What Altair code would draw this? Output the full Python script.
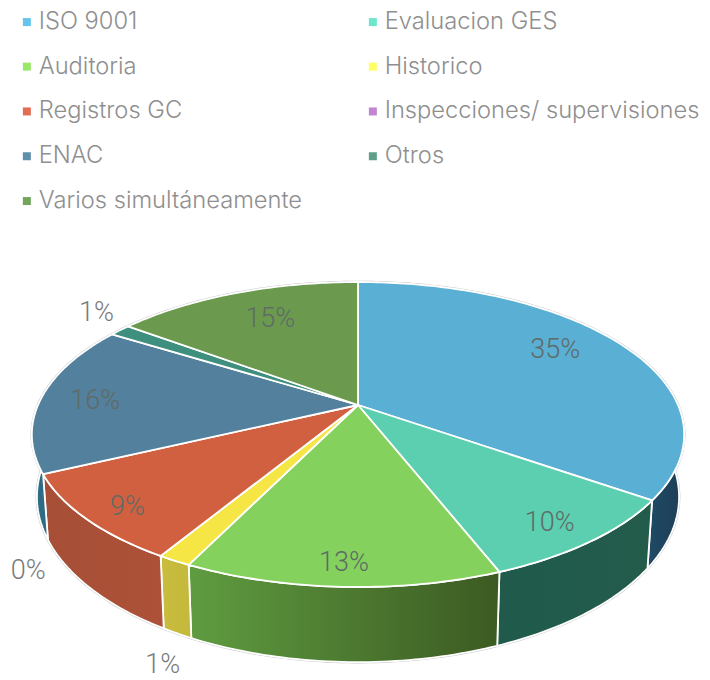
import math
import altair as alt

# ---- chart values -------------------------------------------------------
names = ["ISO 9001", "Evaluacion GES", "Auditoria", "Historico", "Registros GC",
         "Inspecciones/ supervisiones", "ENAC", "Otros", "Varios simultáneamente"]
shares = [34.8, 9.3, 13.1, 1.4, 9.3, 0.0, 16.0, 1.3, 14.8]
labels = ["35%", "10%", "13%", "1%", "9%", "0%", "16%", "1%", "15%"]

# ---- styles -------------------------------------------------------------
legend_colors = ["#66c4ea", "#6de7cc", "#98e86a", "#fdff66", "#e26d53",
                 "#c285d1", "#5e8eab", "#5f9f8b", "#74a55e"]
top_colors = ["#5aafd5", "#5ccfb0", "#84d15d", "#f5e646", "#d0603f",
              "#ae70bb", "#53809c", "#3f8f7f", "#6b9a4f"]
wall_left = ["#1f4a66", "#1f5a4a", "#5f9c40", "#c9bd3e", "#a64e36",
             "#7a4f85", "#2f6f8a", "#2f6f60", "#4f7a3c"]
wall_right = ["#1e3d55", "#245c4c", "#3c5a22", "#c4b93c", "#ad5239",
              "#7a4f85", "#2f6a80", "#2f6f60", "#4f7a3c"]
# how far out along its slice each label sits, and on which disc
label_reach = [0.777, 0.868, 0.89, 1.128, 0.883, 1.10, 0.826, 1.17, 0.73]
label_turn = [-3.9, 1.3, 0.0, -2.2, -1.7, -7.0, -1.3, 3.0, 1.6]
label_plane = ["top", "top", "top", "low", "top", "low", "top", "top", "top"]

FONT_LEGEND = "Inter"
FONT_LABEL = "Roboto"
TEXT = "#8f8f8f"

# ---- perspective view of the pie ----------------------------------------
CX, K = 358.0, 0.1934
DISC = {"top": (320.0, 405.0, 146.8), "low": (315.0, 465.0, 159.0)}
SPAN = (90.0, 270.0)


def project(angle, reach, plane):
    a, cy, b = DISC[plane]
    u, v = reach * math.sin(math.radians(angle)), reach * math.cos(math.radians(angle))
    w = 1 + K * v
    return [CX + a * u / w, cy - b * v / w]


def arc(a0, a1, plane):
    n = max(2, int(abs(a1 - a0)) + 2)
    return [project(a0 + (a1 - a0) * i / (n - 1), 1.0, plane) for i in range(n)]


def feature(ring, **props):
    return {"type": "Feature", "properties": props,
            "geometry": {"type": "Polygon", "coordinates": [ring + ring[:1]]}}


edges = [0.0]
for s in shares:
    edges.append(edges[-1] + s * 3.6)
edges[-1] = 360.0
centre = project(0, 0, "top")

proj = dict(type="identity", scale=1, translate=[-8, -8])
layers = []

# silhouette rim
rim = [feature(arc(0, 360, "top")), feature(arc(0, 360, "low"))]
layers.append(alt.Chart(alt.Data(values=rim)).mark_geoshape(
    fill="#ffffff", stroke="#c4c4c4", strokeWidth=2.6).project(**proj))

# a layer that carries the legend (hidden beneath the faces)
tops = [feature([centre] + arc(edges[i], edges[i + 1], "top"), name=names[i])
        for i in range(len(names))]
layers.append(alt.Chart(alt.Data(values=tops)).mark_geoshape(strokeWidth=0).encode(
    color=alt.Color("properties.name:N",
                    scale=alt.Scale(domain=names, range=legend_colors),
                    legend=alt.Legend(
                        title=None, orient="none", legendX=7, legendY=2, columns=2,
                        direction="horizontal", gridAlign="each",
                        symbolType="square", symbolSize=64, symbolStrokeWidth=0,
                        labelFont=FONT_LEGEND, labelFontSize=23.7, labelFontWeight=300,
                        labelColor=TEXT, labelLimit=420, labelOffset=0,
                        rowPadding=19.8, columnPadding=58,
                        padding=0, symbolOpacity=1))
).project(**proj))

# side walls, front-facing part only
for i in range(len(names)):
    a0, a1 = max(edges[i], SPAN[0]), min(edges[i + 1], SPAN[1])
    if a1 <= a0 or shares[i] == 0:
        continue
    ring = arc(a0, a1, "top") + arc(a1, a0, "low")
    fill = alt.Gradient(gradient="linear", x1=1, x2=0, y1=0, y2=0, stops=[
        alt.GradientStop(color=wall_right[i], offset=0),
        alt.GradientStop(color=wall_left[i], offset=1)])
    layers.append(alt.Chart(alt.Data(values=[feature(ring)])).mark_geoshape(
        fill=fill, stroke="#ffffff", strokeWidth=1.8).project(**proj))

# top faces
for i in range(len(names)):
    if shares[i] == 0:
        continue
    layers.append(alt.Chart(alt.Data(values=[tops[i]])).mark_geoshape(
        fill=top_colors[i], stroke="#ffffff", strokeWidth=1.8).project(**proj))

# data labels
rows = []
for i, lab in enumerate(labels):
    mid = (edges[i] + edges[i + 1]) / 2 + label_turn[i]
    lon, lat = project(mid, label_reach[i], label_plane[i])
    rows.append({"lon": lon, "lat": lat, "label": lab,
                 "dark": label_plane[i] == "top" and label_reach[i] < 1})
inner = [r for r in rows if r["dark"]]
outer = [r for r in rows if not r["dark"]]
for subset, col in ((inner, "#5f6b66"), (outer, "#7a7a7a")):
    layers.append(alt.Chart(alt.Data(values=subset)).mark_text(
        font=FONT_LABEL, fontSize=27, fontWeight=300, color=col,
        align="center", baseline="middle").encode(
        longitude="lon:Q", latitude="lat:Q", text="label:N").project(**proj))

chart = alt.layer(*layers).properties(
    width=694, height=672, padding=0,
    autosize=alt.AutoSizeParams(type="none"),
    background="#ffffff",
).configure_view(stroke=None)

chart.save("out.html", embed_options={"renderer": "svg", "actions": False})
